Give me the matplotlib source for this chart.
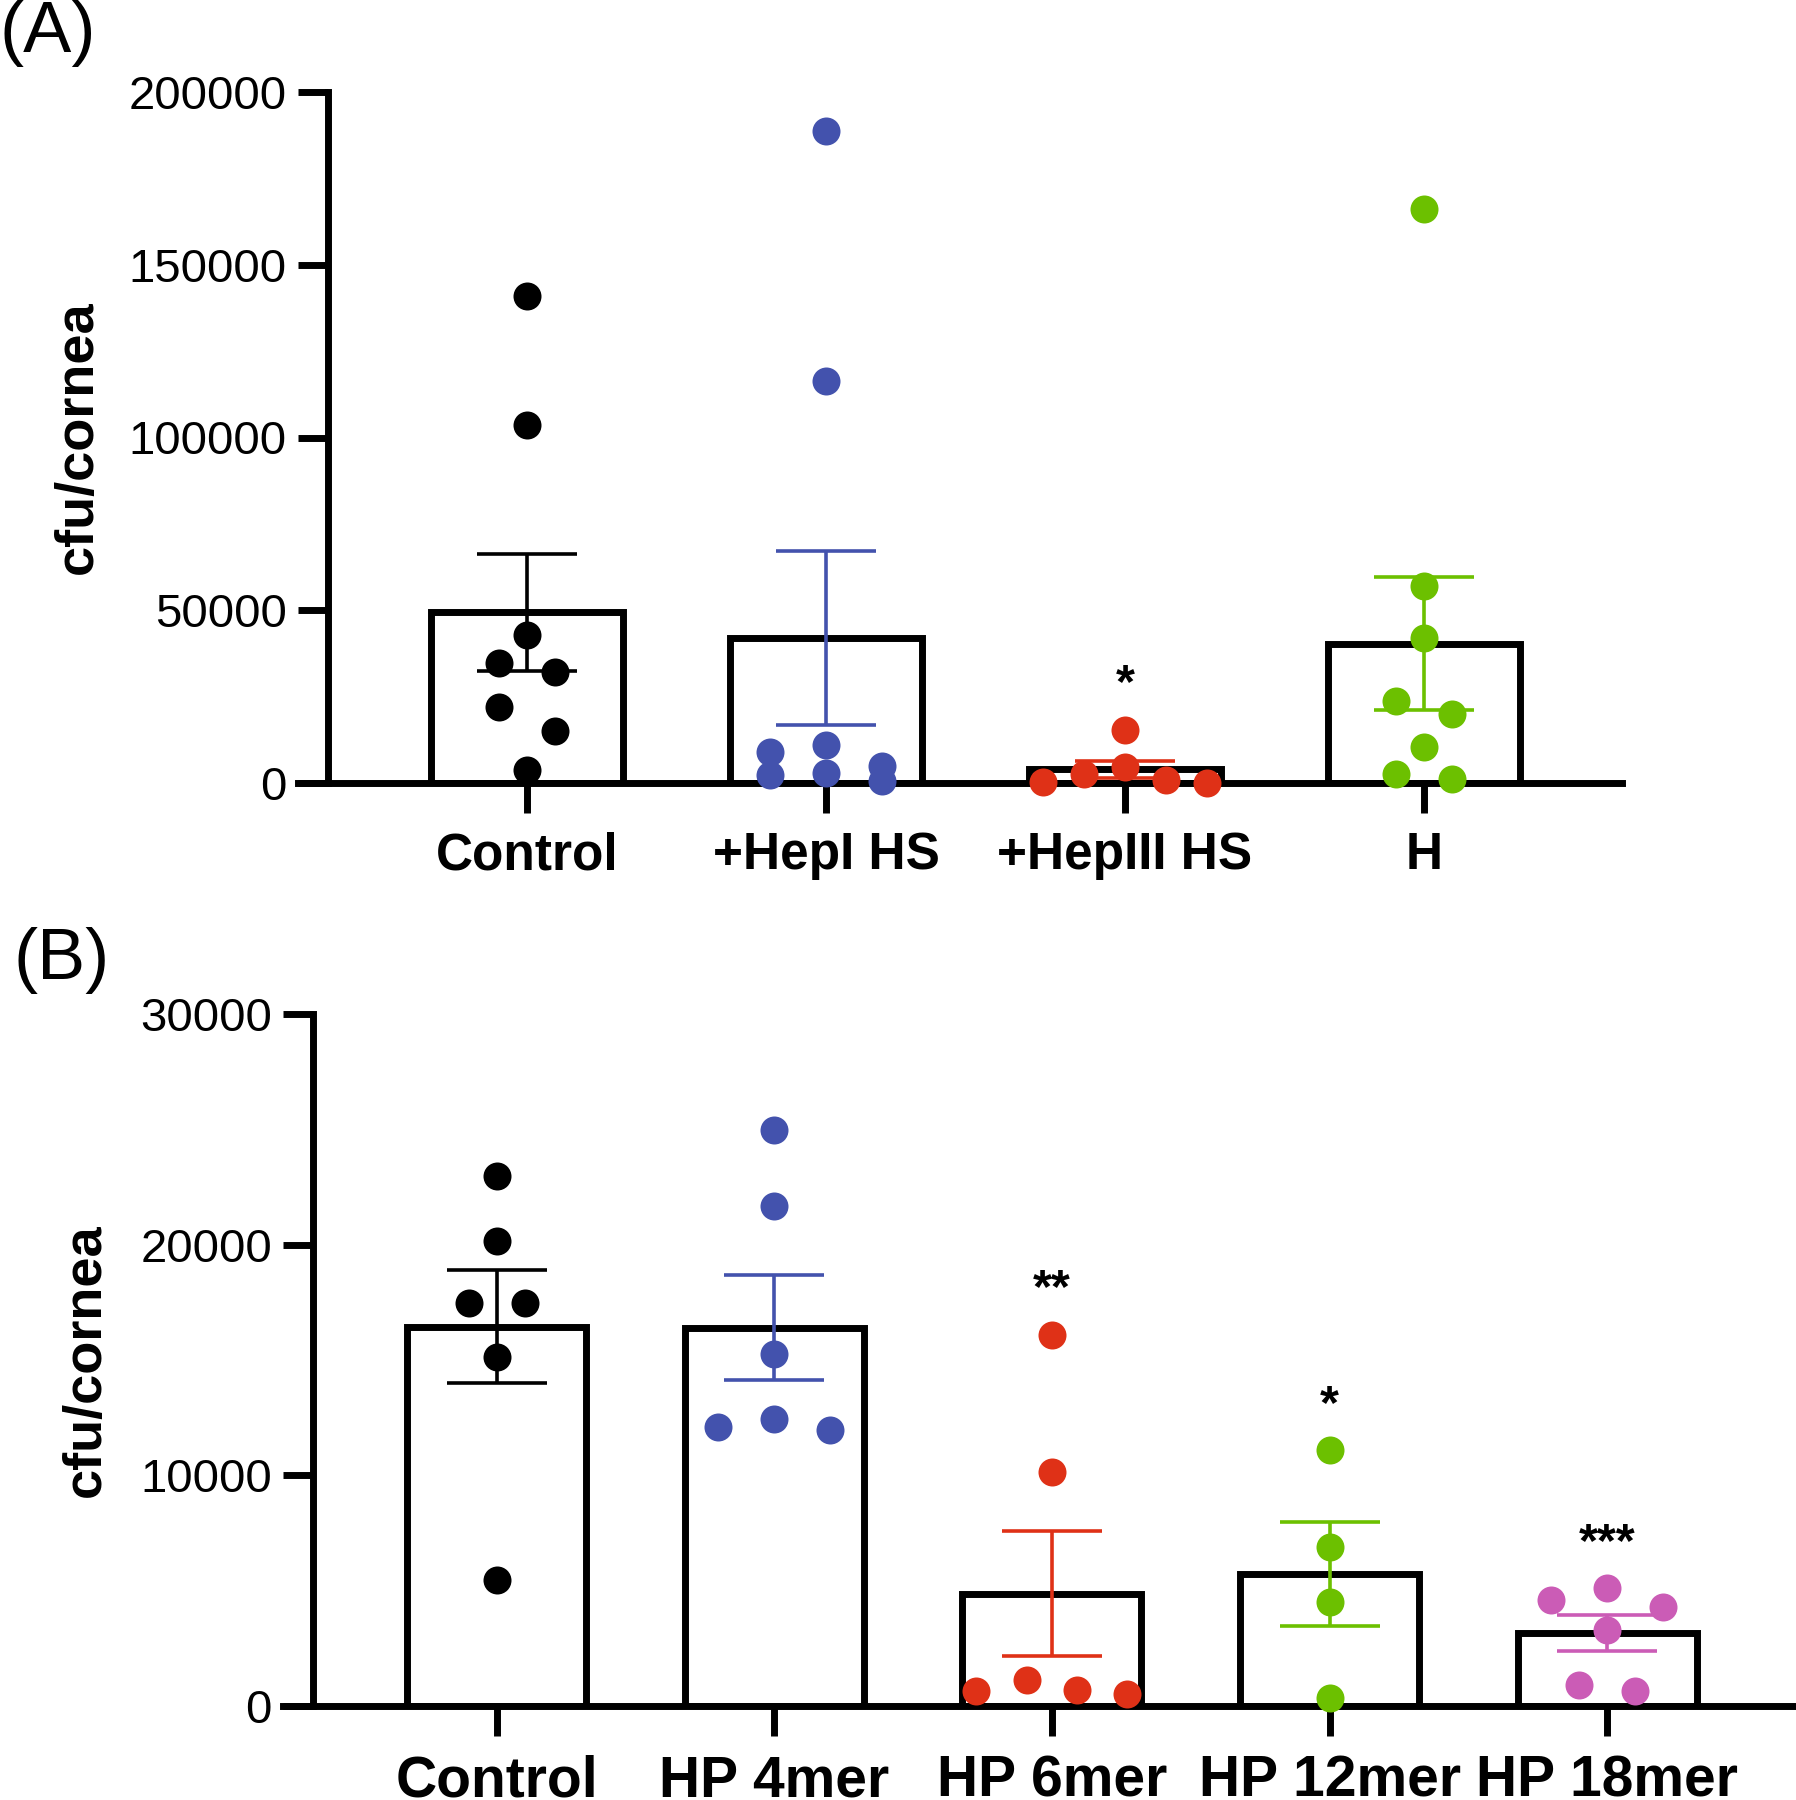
import numpy as np
import matplotlib
matplotlib.use("Agg")
import matplotlib.pyplot as plt

plt.rcParams['font.family'] = ['Liberation Sans', 'DejaVu Sans']

# ---------------- data ----------------
a_categories = ["Control", "+HepI HS", "+HepIII HS", "H"]
a_control = [140900, 103700, 42900, 34600, 32200, 21900, 15000, 3700]
a_hep1 = [188700, 116300, 11000, 9000, 5000, 3000, 2300, 700]
a_hep3 = [15400, 4500, 2700, 800, 300, 100]
a_h = [166100, 57100, 41900, 23600, 19900, 10300, 2700, 1300]
a_sig = ["", "", "*", ""]
a_yticks = [0, 50000, 100000, 150000, 200000]

b_categories = ["Control", "HP 4mer", "HP 6mer", "HP 12mer", "HP 18mer"]
b_control = [22970, 20180, 17470, 17470, 15110, 5470]
b_4mer = [24960, 21680, 15240, 12450, 12100, 11960]
b_6mer = [16100, 10150, 1120, 670, 700, 500]
b_12mer = [11100, 6900, 4500, 350]
b_18mer = [5100, 4600, 4300, 3300, 920, 670]
b_sig = ["", "", "**", "*", "***"]
b_yticks = [0, 10000, 20000, 30000]

# ---------------- style ----------------
BLACK = "#000000"
BLUE = "#4352AD"
RED = "#DF3117"
GREEN = "#6CC000"
PINK = "#CB5CB6"
a_colors = [BLACK, BLUE, RED, GREEN]
b_colors = [BLACK, BLUE, RED, GREEN, PINK]

W, H = 1796, 1800
DPI = 100
fig = plt.figure(figsize=(W / DPI, H / DPI), dpi=DPI)

DOT_PX = 28.0
LW = 5.0
TICK_LEN = 21.6
BAR_W = 0.645


def swarm_offsets(vals, ypx_per_unit, xpx_per_unit, bar_px):
    """Row-based scatter layout: points close in value share a row and are
    spread horizontally, GraphPad style."""
    vals = np.asarray(vals, dtype=float)
    order = np.argsort(-vals, kind="stable")
    rows = []
    for i in order:
        if rows and (vals[rows[-1][0]] - vals[i]) * ypx_per_unit < 0.9 * DOT_PX:
            rows[-1].append(i)
        else:
            rows.append([i])
    offs = np.zeros(len(vals))
    for row in rows:
        n = len(row)
        if n == 1:
            continue
        s = min(2 * DOT_PX, (bar_px - DOT_PX) / (n - 1))
        if n % 2:
            slots = [0]
            for m in range(1, n):
                slots += [-m, m]
        else:
            slots = []
            for m in range(n):
                slots += [-(m + 0.5), m + 0.5]
        for idx, slot in zip(row, slots[:n]):
            offs[idx] = slot * s / xpx_per_unit
    return offs


def panel(ax_box, xlim, groups, colors, cats, sig, yticks, xfs, ylabel_x, tick_start_px):
    left, bottom, width, height = ax_box
    ax = fig.add_axes([left / W, 1 - bottom / H, width / W, height / H])
    ax.set_xlim(*xlim)
    ax.set_ylim(yticks[0], yticks[-1])
    xpx = width / (xlim[1] - xlim[0])
    ypx = height / (yticks[-1] - yticks[0])
    xs = np.arange(len(groups))
    means = [np.mean(g) for g in groups]
    sems = [np.std(g, ddof=1) / np.sqrt(len(g)) for g in groups]
    ax.bar(xs, means, width=BAR_W, color="white", edgecolor="black",
           linewidth=LW, zorder=2)
    for x, g, m, s, c, st in zip(xs, groups, means, sems, colors, sig):
        ax.errorbar([x], [m], yerr=[s], fmt="none", ecolor=c, elinewidth=2.6,
                    capsize=36, capthick=2.6, zorder=3)
        offs = swarm_offsets(g, ypx, xpx, BAR_W * xpx)
        ax.scatter(x + offs, g, s=(DOT_PX * 72 / DPI) ** 2, color=c,
                   linewidths=0, zorder=4, clip_on=False)
        if st:
            top = max(max(g), m + s)
            fs = 35
            ax.annotate(st, xy=(x, top), xytext=(0, 42.5 - 0.55 * fs),
                        textcoords="offset points", ha="center", va="baseline",
                        fontsize=fs, fontweight="bold", color="black")
    for sp in ["top", "right"]:
        ax.spines[sp].set_visible(False)
    ax.spines["left"].set_position(("axes", tick_start_px / width))
    for sp in ["left", "bottom"]:
        ax.spines[sp].set_linewidth(LW)
        ax.spines[sp].set_capstyle("projecting")
    ax.set_yticks(yticks)
    ax.set_yticklabels([str(t) for t in yticks], fontsize=34)
    ax.set_xticks(xs)
    ax.set_xticklabels(cats, fontsize=xfs, fontweight="bold")
    ax.tick_params(axis="y", direction="out", length=TICK_LEN, width=LW, pad=8)
    ax.tick_params(axis="x", direction="out", length=TICK_LEN, width=LW, pad=13)
    ax.set_ylabel("cfu/cornea", fontsize=39, fontweight="bold")
    ax.yaxis.set_label_coords(ylabel_x, 0.5)
    ax.patch.set_alpha(0)
    return ax


axA = panel((298, 783, 1622 - 298, 783 - 92), (-0.766, 3.662),
            [a_control, a_hep1, a_hep3, a_h], a_colors, a_categories, a_sig,
            a_yticks, 37, -0.147, 30)
axB = panel((283, 1706, 1796 - 283, 1706 - 1014), (-0.771, 4.681),
            [b_control, b_4mer, b_6mer, b_12mer, b_18mer], b_colors, b_categories,
            b_sig, b_yticks, 41, -0.114, 30)

fig.text(0 / W, 1 - 0 / H, "(A)", fontsize=52, ha="left", va="top")
fig.text(14 / W, 1 - 927 / H, "(B)", fontsize=52, ha="left", va="top")

fig.savefig("out.png", dpi=DPI, facecolor="white")
